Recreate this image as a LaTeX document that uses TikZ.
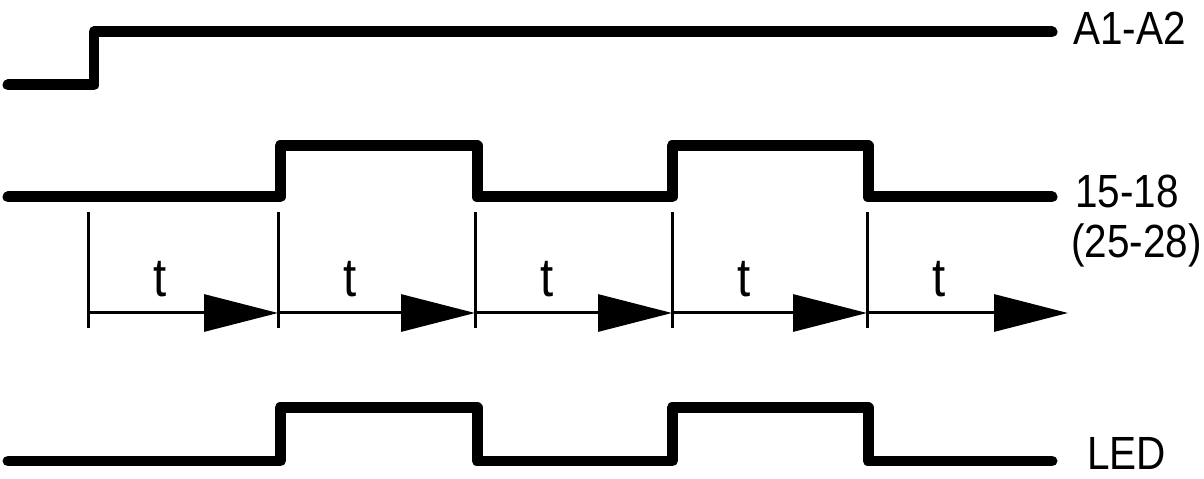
\documentclass[tikz,border=0pt]{standalone}
\usepackage{fontspec}
\setmainfont{Liberation Sans}[FakeStretch=0.87]
\usetikzlibrary{arrows.meta}
\begin{document}
\begin{tikzpicture}[x=0.02cm,y=-0.02cm,
    wave/.style={line width=0.22cm,line cap=round,line join=round},
    tick/.style={line width=0.06cm},
    span/.style={line width=0.06cm,-{Triangle[length=1.48cm,width=0.74cm]}},
    pin/.style={inner sep=0pt,anchor=base west,font=\fontsize{26.5}{30}\selectfont},
    tlab/.style={inner sep=0pt,anchor=base,font=\fontsize{31}{34}\selectfont}]
  \useasboundingbox (0,0) rectangle (1204,479);
  % supply A1-A2
  \draw[wave] (8,85) -- (94,85) -- (94,32) -- (1052,32);
  % contact 15-18
  \draw[wave] (8,197) -- (280,197) -- (280,146) -- (477,146) -- (477,197)
    -- (672,197) -- (672,146) -- (868,146) -- (868,197) -- (1052,197);
  % LED
  \draw[wave] (8,461) -- (280,461) -- (280,408) -- (477,408) -- (477,461)
    -- (672,461) -- (672,408) -- (868,408) -- (868,461) -- (1052,461);
  % time base
  \foreach \x [count=\i from 0] in {88,278,475,672,867,1068}
    \coordinate (m\i) at (\x,313);
  \foreach \i/\j in {0/1,1/2,2/3,3/4,4/5} {
    \draw[tick] (m\i) ++(0,-101) -- ++(0,116);
    \draw[span] (m\i) -- (m\j);
    \node[tlab] (t\i) at ([shift={(72,-16)}]m\i) {t};
  }
  % labels
  \node[pin] (a1a2) at (1073,45) {A1-A2};
  \node[pin] (c1518) at (1075,208) {15-18};
  \node[pin] (c2528) at (1071,258) {(25-28)};
  \node[pin] (led) at (1087,470) {LED};
\end{tikzpicture}
\end{document}
